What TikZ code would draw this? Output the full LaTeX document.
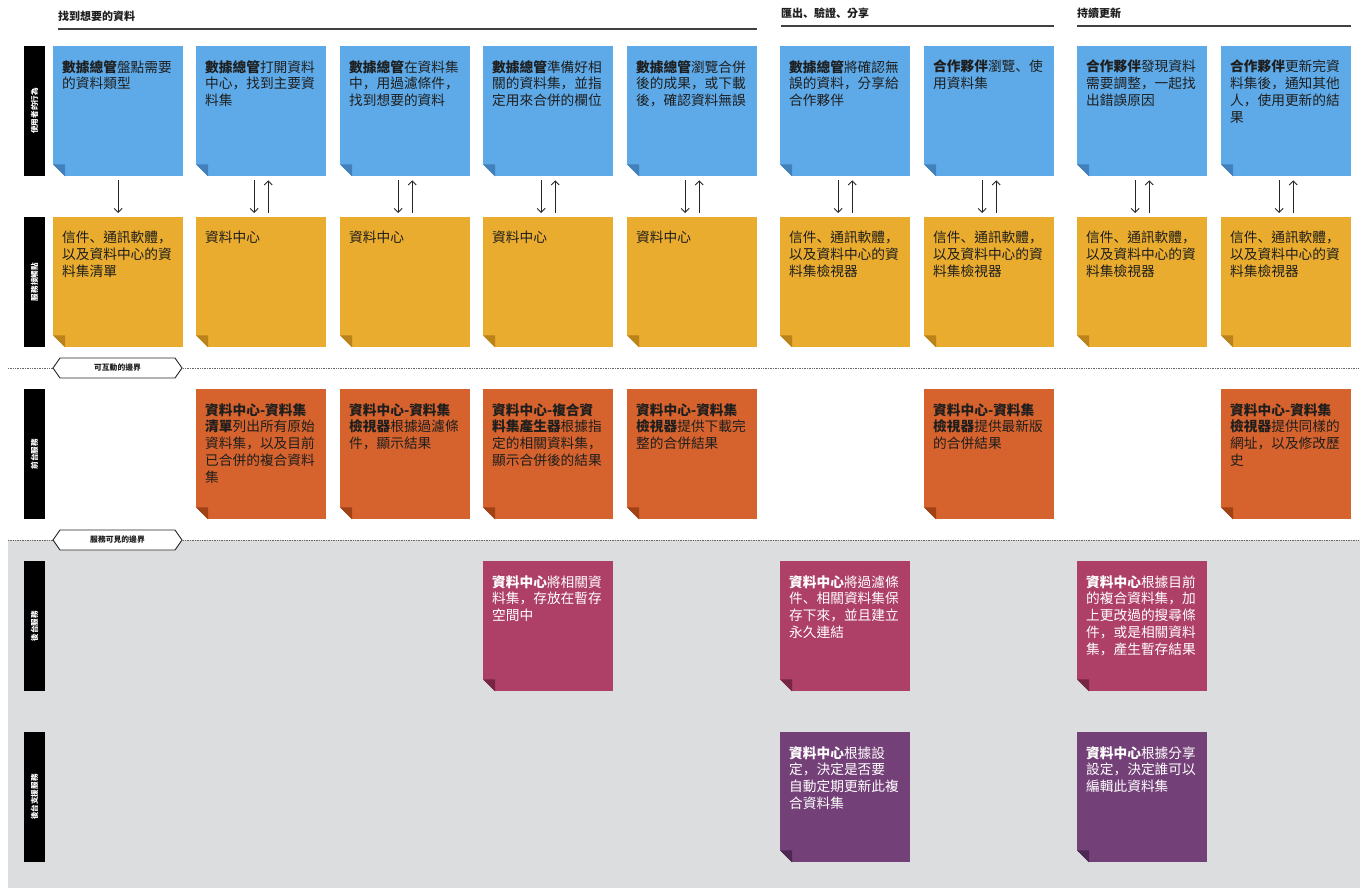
\documentclass[tikz,border=0pt]{standalone}
\usepackage{fontspec}
\newfontfamily\cjk{Noto Sans CJK TC}
\newfontfamily\cjkp{Noto Sans CJK SC}
\newcommand\zc{{\cjkp ，}}
\newcommand\zd{{\cjkp 、}}
\usetikzlibrary{arrows.meta,shapes.symbols}
\definecolor{bluefill}{RGB}{94,170,232}
\definecolor{bluedark}{RGB}{66,128,186}
\definecolor{yelfill}{RGB}{233,172,46}
\definecolor{yeldark}{RGB}{186,132,26}
\definecolor{orgfill}{RGB}{214,99,45}
\definecolor{orgdark}{RGB}{160,66,22}
\definecolor{pinkfill}{RGB}{174,63,102}
\definecolor{pinkdark}{RGB}{118,38,66}
\definecolor{purpfill}{RGB}{116,64,120}
\definecolor{purpdark}{RGB}{78,40,84}
\definecolor{bggray}{RGB}{220,221,223}
\definecolor{inkdark}{RGB}{30,30,30}
\tikzset{
  notebox/.style={rectangle,anchor=north west,minimum width=130pt,minimum height=130pt,inner sep=0pt,draw=none},
  notetext/.style={anchor=north west,inner sep=0pt,align=left,text width=124pt,font=\cjk\fontsize{13.7}{16.8}\selectfont},
  bluebox/.style={fill=bluefill}, bluefold/.style={fill=bluedark}, bluetxt/.style={text=inkdark},
  yelbox/.style={fill=yelfill}, yelfold/.style={fill=yeldark}, yeltxt/.style={text=inkdark},
  orgbox/.style={fill=orgfill}, orgfold/.style={fill=orgdark}, orgtxt/.style={text=inkdark},
  pinkbox/.style={fill=pinkfill}, pinkfold/.style={fill=pinkdark}, pinktxt/.style={text=white},
  purpbox/.style={fill=purpfill}, purpfold/.style={fill=purpdark}, purptxt/.style={text=white},
  lanebar/.style={rectangle,fill=black,text=white,rotate=90,minimum width=130pt,minimum height=21pt,inner sep=0pt,font=\cjk\bfseries\fontsize{7.6}{9}\selectfont},
  header/.style={anchor=west,inner sep=0pt,text=inkdark,font=\cjk\bfseries\fontsize{11}{13}\selectfont},
  headline/.style={draw=black!75,line width=1.3pt},
  arr/.style={-{Straight Barb[length=4pt,width=8pt]},line width=0.9pt,draw=black!85,shorten <=4pt,shorten >=4pt},
  dotline/.style={draw=black!60,line width=0.8pt,dash pattern=on 0.8pt off 0.9pt},
  hexlabel/.style={shape=signal,signal to=east and west,signal pointer angle=110,draw=black!85,line width=0.9pt,fill=white,minimum width=129pt,minimum height=20pt,inner sep=0pt,text=inkdark,font=\cjk\bfseries\fontsize{7.8}{9}\selectfont}
}
\newcommand\stickynote[6]{%
  \node[notebox,#4box] (#1) at (#2,#3) {};
  \fill[#5] ([yshift=12pt]#1.south west) -- (#1.south west) -- ([xshift=12pt]#1.south west) -- cycle;
  \fill[#4fold] ([yshift=12pt]#1.south west) -- ([xshift=12pt,yshift=12pt]#1.south west) -- ([xshift=12pt]#1.south west) -- cycle;
  \node[notetext,#4txt] (#1t) at ([xshift=9pt,yshift=-14pt]#1.north west) {#6};
}
\begin{document}
\begin{tikzpicture}[x=1pt,y=-1pt]
\fill[white] (0,0) rectangle (1360,888);
\useasboundingbox (0,0) rectangle (1360,888);
% gray back area
\fill[bggray] (8,540) rectangle (1360,888);

% headers
\node[header] (h1) at (58,16) {找到想要的資料};
\coordinate (h1a) at (58,29); \coordinate (h1b) at (757,29);
\draw[headline] (h1a) -- (h1b);
\node[header] (h2) at (781,13) {匯出\zd{}驗證\zd{}分享};
\coordinate (h2a) at (781,26); \coordinate (h2b) at (1054,26);
\draw[headline] (h2a) -- (h2b);
\node[header] (h3) at (1077,13) {持續更新};
\coordinate (h3a) at (1077,26); \coordinate (h3b) at (1351,26);
\draw[headline] (h3a) -- (h3b);

% lane bars
\node[lanebar] (l1) at (34.5,111) {使用者的行為};
\node[lanebar] (l2) at (34.5,282) {服務接觸點};
\node[lanebar] (l3) at (34.5,454) {前台服務};
\node[lanebar] (l4) at (34.5,626) {後台服務};
\node[lanebar] (l5) at (34.5,797) {後台支援服務};

% boundaries
\coordinate (d1l) at (8,368); \coordinate (d1r) at (1360,368);
\coordinate (d2l) at (8,540); \coordinate (d2r) at (1360,540);
\draw[dotline] (d1l) -- (d1r);
\draw[dotline] (d2l) -- (d2r);
\node[hexlabel] (hb1) at (117.5,368) {可互動的邊界};
\node[hexlabel] (hb2) at (117.5,540) {服務可見的邊界};

% user actions
\stickynote{u1}{53}{46}{blue}{white}{\textbf{數據總管}盤點需要\\的資料類型}
\stickynote{u2}{196}{46}{blue}{white}{\textbf{數據總管}打開資料\\中心\zc{}找到主要資\\料集}
\stickynote{u3}{340}{46}{blue}{white}{\textbf{數據總管}在資料集\\中\zc{}用過濾條件\zc\\找到想要的資料}
\stickynote{u4}{483}{46}{blue}{white}{\textbf{數據總管}準備好相\\關的資料集\zc{}並指\\定用來合併的欄位}
\stickynote{u5}{627}{46}{blue}{white}{\textbf{數據總管}瀏覽合併\\後的成果\zc{}或下載\\後\zc{}確認資料無誤}
\stickynote{u6}{780}{46}{blue}{white}{\textbf{數據總管}將確認無\\誤的資料\zc{}分享給\\合作夥伴}
\stickynote{u7}{924}{46}{blue}{white}{\textbf{合作夥伴}瀏覽\zd{}使\\用資料集}
\stickynote{u8}{1077}{46}{blue}{white}{\textbf{合作夥伴}發現資料\\需要調整\zc{}一起找\\出錯誤原因}
\stickynote{u9}{1221}{46}{blue}{white}{\textbf{合作夥伴}更新完資\\料集後\zc{}通知其他\\人\zc{}使用更新的結\\果}

% touchpoints
\stickynote{t1}{53}{217}{yel}{white}{信件\zd{}通訊軟體\zc\\以及資料中心的資\\料集清單}
\stickynote{t2}{196}{217}{yel}{white}{資料中心}
\stickynote{t3}{340}{217}{yel}{white}{資料中心}
\stickynote{t4}{483}{217}{yel}{white}{資料中心}
\stickynote{t5}{627}{217}{yel}{white}{資料中心}
\stickynote{t6}{780}{217}{yel}{white}{信件\zd{}通訊軟體\zc\\以及資料中心的資\\料集檢視器}
\stickynote{t7}{924}{217}{yel}{white}{信件\zd{}通訊軟體\zc\\以及資料中心的資\\料集檢視器}
\stickynote{t8}{1077}{217}{yel}{white}{信件\zd{}通訊軟體\zc\\以及資料中心的資\\料集檢視器}
\stickynote{t9}{1221}{217}{yel}{white}{信件\zd{}通訊軟體\zc\\以及資料中心的資\\料集檢視器}

% front stage
\stickynote{f2}{196}{389}{org}{white}{\textbf{資料中心-資料集}\\\textbf{清單}列出所有原始\\資料集\zc{}以及目前\\已合併的複合資料\\集}
\stickynote{f3}{340}{389}{org}{white}{\textbf{資料中心-資料集}\\\textbf{檢視器}根據過濾條\\件\zc{}顯示結果}
\stickynote{f4}{483}{389}{org}{white}{\textbf{資料中心-複合資}\\\textbf{料集產生器}根據指\\定的相關資料集\zc\\顯示合併後的結果}
\stickynote{f5}{627}{389}{org}{white}{\textbf{資料中心-資料集}\\\textbf{檢視器}提供下載完\\整的合併結果}
\stickynote{f7}{924}{389}{org}{white}{\textbf{資料中心-資料集}\\\textbf{檢視器}提供最新版\\的合併結果}
\stickynote{f9}{1221}{389}{org}{white}{\textbf{資料中心-資料集}\\\textbf{檢視器}提供同樣的\\網址\zc{}以及修改歷\\史}

% back stage
\stickynote{b4}{483}{561}{pink}{bggray}{\textbf{資料中心}將相關資\\料集\zc{}存放在暫存\\空間中}
\stickynote{b6}{780}{561}{pink}{bggray}{\textbf{資料中心}將過濾條\\件\zd{}相關資料集保\\存下來\zc{}並且建立\\永久連結}
\stickynote{b8}{1077}{561}{pink}{bggray}{\textbf{資料中心}根據目前\\的複合資料集\zc{}加\\上更改過的搜尋條\\件\zc{}或是相關資料\\集\zc{}產生暫存結果}

% support
\stickynote{s6}{780}{732}{purp}{bggray}{\textbf{資料中心}根據設\\定\zc{}決定是否要\\自動定期更新此複\\合資料集}
\stickynote{s8}{1077}{732}{purp}{bggray}{\textbf{資料中心}根據分享\\設定\zc{}決定誰可以\\編輯此資料集}

% arrows
\draw[arr] (u1.south) -- (t1.north);
\foreach \i in {2,...,9}{
  \draw[arr] ([xshift=-7pt]u\i.south) -- ([xshift=-7pt]t\i.north);
  \draw[arr] ([xshift=7pt]t\i.north) -- ([xshift=7pt]u\i.south);
}
\end{tikzpicture}
\end{document}
